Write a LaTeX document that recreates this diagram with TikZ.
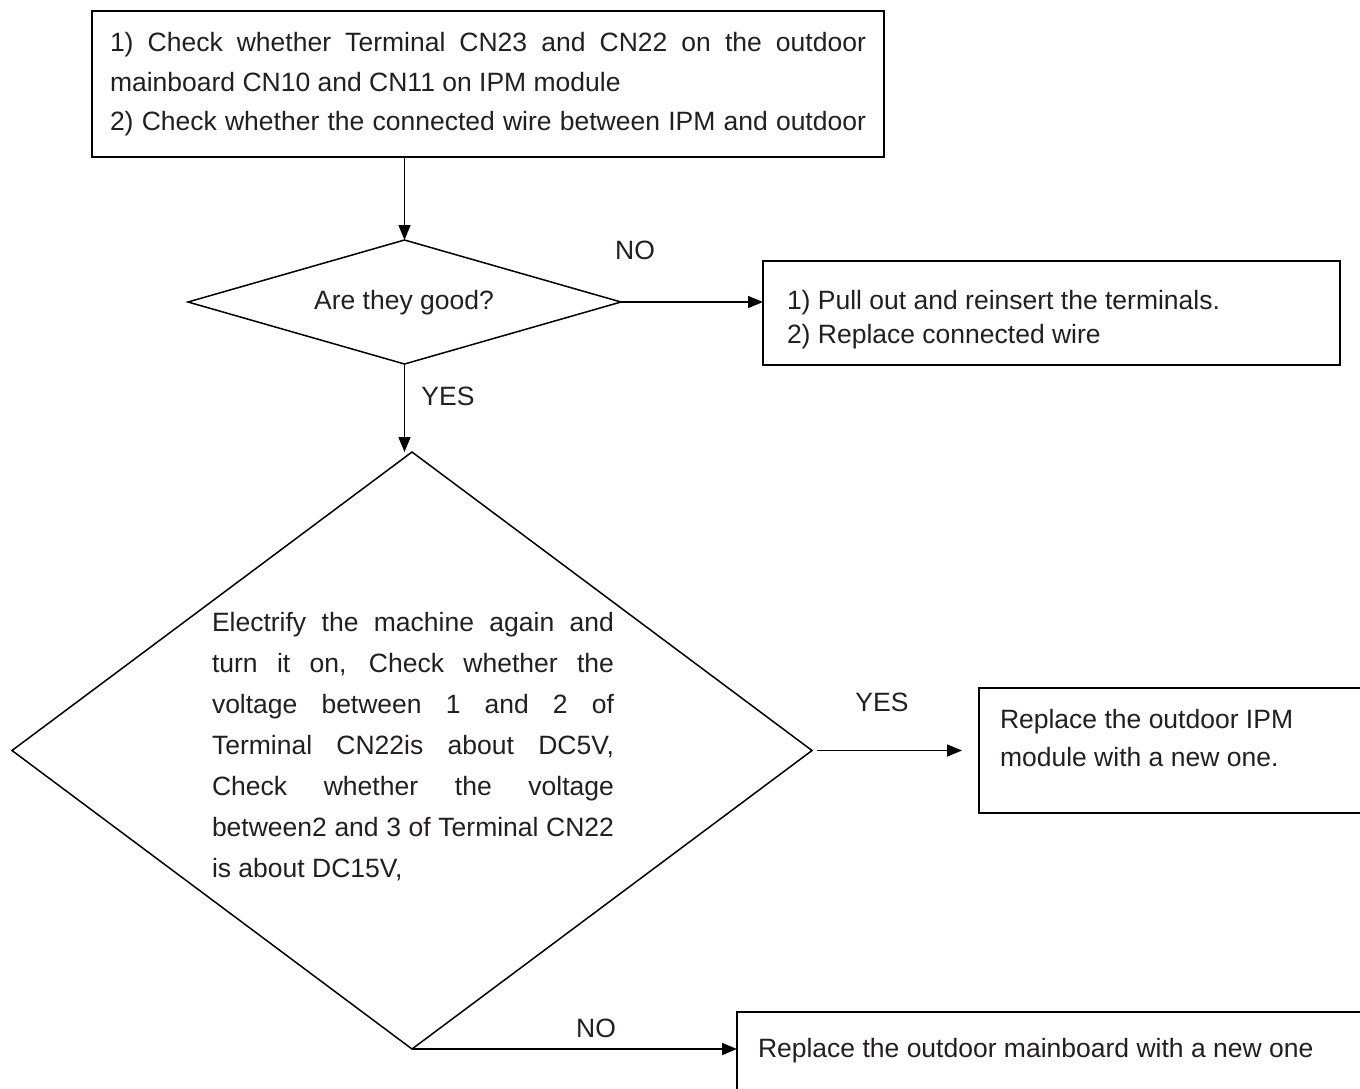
\documentclass[tikz,border=0pt]{standalone}
\usepackage{fontspec}
\setmainfont{Liberation Sans}
\usetikzlibrary{arrows.meta,shapes.geometric}
\definecolor{txtc}{HTML}{231F20}
\newcommand\jl[2]{\makebox[#1][s]{#2}}
\begin{document}
\begin{tikzpicture}[x=1pt,y=-1pt,
  box/.style={draw=black, line width=2pt, inner sep=0pt, outer sep=0pt, anchor=north west},
  dec/.style={draw=black, line width=1.5pt, diamond, inner sep=0pt, outer sep=0pt},
  txt/.style={text=txtc, inner sep=0pt, outer sep=0pt, anchor=north west, align=left},
  lbl/.style={text=txtc, inner sep=0pt, font=\fontsize{26.5}{30}\selectfont},
  arr/.style={draw=black, line width=1.5pt, -{Triangle[length=15pt,width=12pt]}}]
\useasboundingbox (0,0) rectangle (1360,1088);
\fill[white] (0,0) rectangle (1360,1088);

% boxes
\node[box, minimum width=792pt, minimum height=146pt] (b1) at (92,11) {};
\node[box, minimum width=577pt, minimum height=104pt] (b2) at (763,261) {};
\node[box, minimum width=420pt, minimum height=125pt] (b3) at (979,688) {};
\node[box, minimum width=700pt, minimum height=150pt] (b4) at (737,1012) {};

% decisions
\node[dec, minimum width=433pt, minimum height=124pt] (d1) at (404.5,302) {};
\node[dec, minimum width=800pt, minimum height=597pt] (d2) at (412,750.5) {};

% texts
\node[txt, font=\fontsize{26.5}{39.5}\selectfont] (t1) at (110,32.7) {%
\jl{756pt}{1) Check whether Terminal CN23 and CN22 on the outdoor}\\
mainboard CN10 and CN11 on IPM module\\
\jl{756pt}{2) Check whether the connected wire between IPM and outdoor}};

\node[txt, font=\fontsize{26.5}{34}\selectfont] (t2) at (787,290.7) {%
1) Pull out and reinsert the terminals.\\
2) Replace connected wire};

\node[txt, font=\fontsize{26.5}{38}\selectfont] (t3) at (1000,709) {%
Replace the outdoor IPM\\
module with a new one.};

\node[txt, font=\fontsize{26.5}{38}\selectfont] (t4) at (758,1038) {%
Replace the outdoor mainboard with a new one};

\node[txt, font=\fontsize{26.5}{41}\selectfont] (t5) at (212,612.7) {%
\jl{402pt}{Electrify the machine again and}\\
\jl{402pt}{turn it on, Check whether the}\\
\jl{402pt}{voltage between 1 and 2 of}\\
\jl{402pt}{Terminal CN22is about DC5V,}\\
\jl{402pt}{Check whether the voltage}\\
\jl{402pt}{between2 and 3 of Terminal CN22}\\
is about DC15V,};

\node[lbl, anchor=base] (q1) at (404,309.5) {Are they good?};

% labels
\node[lbl] (no1) at (635,250) {NO};
\node[lbl] (yes1) at (448,396) {YES};
\node[lbl] (yes2) at (882,702) {YES};
\node[lbl] (no2) at (596,1028) {NO};

% connectors
\draw[arr] (d1.north |- b1.south) -- (d1.north);
\draw[arr] (d1.east) -- (d1.east -| b2.west);
\draw[arr] (d1.south) -- (d1.south |- d2.north);
\draw[arr, shorten <=5pt, shorten >=17pt] (d2.east) -- (d2.east -| b3.west);
\draw[arr] (d2.south) -- (d2.south -| b4.west);
\end{tikzpicture}
\end{document}
